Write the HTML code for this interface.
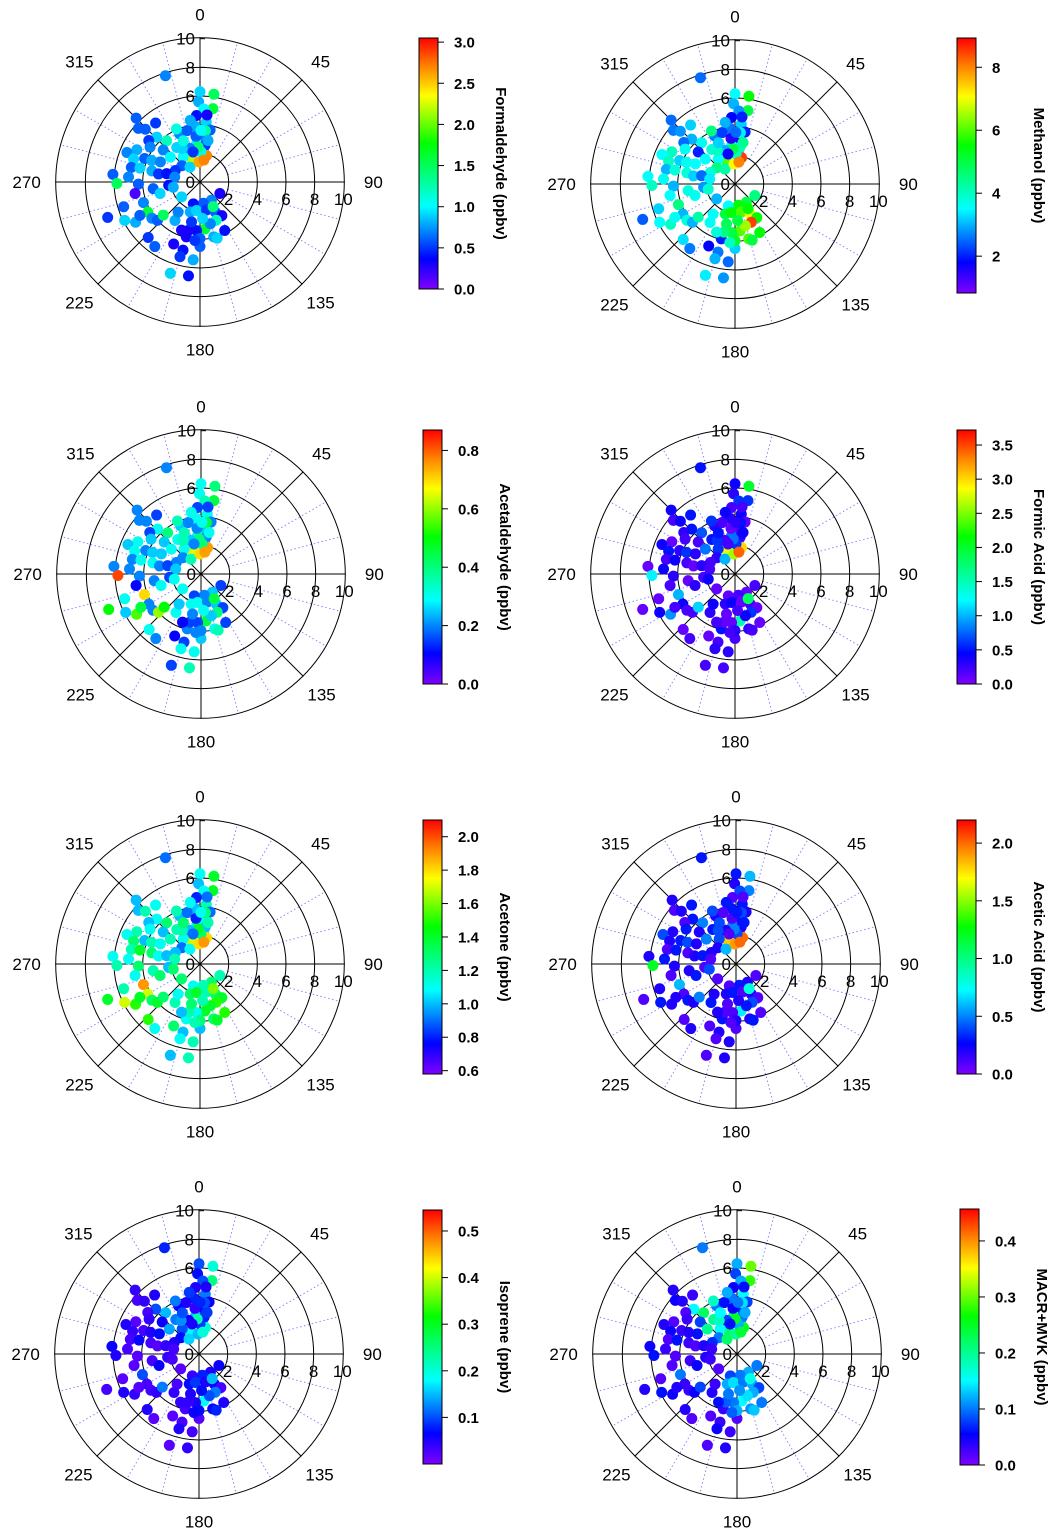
<!DOCTYPE html>
<html><head><meta charset="utf-8"><style>
body{margin:0;background:#fff}
svg{display:block;font-family:"Liberation Sans",Arial,sans-serif}
</style></head><body>
<svg id="chart" width="1055" height="1539" viewBox="0 0 1055 1539" xmlns="http://www.w3.org/2000/svg">
<defs>
<linearGradient id="rainbow" x1="0" y1="1" x2="0" y2="0">
<stop offset="0" stop-color="#7f00ff"/><stop offset="0.12" stop-color="#0000ff"/><stop offset="0.33" stop-color="#00ffff"/><stop offset="0.58" stop-color="#00ff00"/><stop offset="0.77" stop-color="#ffff00"/><stop offset="0.89" stop-color="#ff8000"/><stop offset="1" stop-color="#ff0000"/>
</linearGradient>
</defs>
</svg>
<script>
// wind direction (deg) and speed (m/s), shared by all panels
const windDir = [342,0,9,10,359,3,357,6,11,355,4,355,8,14,340,326,326,337,346,351,336,321,316,311,310,312,295,326,357,2,10,6,6,355,1,11,357,343,332,338,347,
315,323,311,314,309,305,297,292,293,289,282,283,294,297,283,281,284,281,275,274,269,268,260,262,254,264,259,252,249,243,238,250,240,241,233,228,228,223,215,203,213,216,231,194,195,185,198,187,194,180,
120,148,171,197,198,187,167,153,147,157,174,184,193,201,166,163,153,180,185,166,176,192,152];
const windSpeed = [7.8,6.3,6.2,5.2,5.6,5.1,4.65,4.2,3.7,3.9,3.15,2.7,2.6,1.9,1.7,2.1,2.9,3.65,3.7,4.35,4.05,3.7,4.35,3.4,2.7,1.7,1.9,1.25,1.4,2.1,1.55,4.7,3.6,3.2,3.6,2.95,2.45,2.45,2.65,3.1,2.15,
6.3,5.15,5.7,5.3,4.6,4.25,4.95,5.5,4.2,4.9,4.9,4.3,3.7,3.1,3.45,2.95,2.4,1.8,6.1,5.0,5.8,4.3,4.6,3.3,2.9,2.2,1.9,5.6,6.9,5.9,5.3,4.2,4.2,4.8,4.2,4.0,3.45,5.3,5.5,4.7,3.2,2.6,1.65,4.9,5.4,5.45,6.7,6.6,3.95,4.5,
1.6,1.5,1.5,1.6,2.2,2.0,2.0,2.35,2.8,2.9,3.3,3.4,3.45,3.6,3.95,4.1,3.8,3.95,4.1,3.0,2.55,2.85,1.95];
const formaldehyde = [0.7,0.9,1.5,1.6,0.8,1.0,0.4,0.9,0.6,0.8,0.7,1.0,0.5,2.7,2.2,1.0,0.9,0.7,0.6,0.8,1.1,1.2,0.9,0.7,1.0,0.6,0.5,0.9,2.6,1.1,2.7,0.3,1.3,0.6,1.0,0.8,1.4,0.7,0.9,1.1,0.5,
0.6,0.5,0.6,0.6,0.5,0.7,0.8,0.7,0.6,0.9,0.6,0.9,0.8,0.7,0.8,0.5,0.4,0.7,0.6,0.7,1.5,0.6,0.15,0.6,0.9,0.4,0.8,0.6,0.5,0.9,0.8,0.7,1.6,0.6,0.7,0.6,1.5,0.5,0.6,0.3,0.8,0.7,0.9,0.4,0.5,0.8,0.9,0.4,0.3,0.6,
0.3,0.7,0.6,0.4,0.8,0.9,0.5,0.6,0.3,1.2,1.6,0.4,0.3,0.3,0.8,0.9,0.4,0.6,0.5,0.7,0.9,0.5,1.4];
const methanol = [2.5,3.5,5.5,5.0,3.0,2.8,1.8,3.2,2.0,2.6,1.5,3.8,4.0,8.5,6.0,3.5,3.8,2.6,2.2,3.0,4.5,3.6,3.0,2.0,3.5,4.5,3.8,4.2,7.0,4.0,8.0,2.0,3.4,1.5,2.5,4.4,5.0,3.0,4.0,3.2,1.7,
2.5,3.2,2.6,2.8,2.5,3.6,4.0,3.5,3.2,4.0,3.0,3.8,3.6,3.5,3.8,3.2,2.5,3.4,3.5,3.6,4.0,3.0,3.5,3.8,3.6,2.8,3.9,3.2,2.4,3.5,4.0,4.5,3.0,3.6,3.8,3.0,4.2,3.3,2.6,1.8,3.6,3.5,3.0,2.6,3.0,2.5,3.4,2.8,2.0,3.2,
4.5,5.0,5.5,3.5,5.0,5.5,6.0,7.0,5.5,8.5,6.0,5.0,4.5,3.8,6.0,5.0,5.5,5.2,4.0,6.5,5.0,4.8,5.5];
const acetaldehyde = [0.2,0.3,0.4,0.45,0.3,0.35,0.15,0.3,0.2,0.3,0.25,0.35,0.2,0.75,0.65,0.3,0.3,0.25,0.2,0.3,0.35,0.4,0.3,0.25,0.3,0.2,0.2,0.35,0.7,0.4,0.75,0.15,0.45,0.2,0.3,0.3,0.4,0.25,0.35,0.35,0.2,
0.2,0.15,0.2,0.2,0.15,0.25,0.3,0.25,0.2,0.3,0.2,0.3,0.25,0.25,0.3,0.2,0.15,0.25,0.2,0.2,0.82,0.2,0.1,0.2,0.3,0.15,0.3,0.3,0.5,0.25,0.55,0.7,0.2,0.45,0.2,0.6,0.5,0.3,0.2,0.1,0.3,0.25,0.3,0.15,0.3,0.3,0.15,0.35,0.2,0.25,
0.15,0.25,0.2,0.15,0.3,0.3,0.2,0.25,0.15,0.4,0.45,0.15,0.15,0.1,0.3,0.35,0.15,0.2,0.2,0.25,0.3,0.2,0.45];
const formicAcid = [0.5,0.4,2.0,0.6,0.3,0.6,0.2,0.4,0.1,0.3,0.2,0.8,0.3,3.0,2.8,0.6,0.5,0.3,0.2,0.4,0.6,0.7,0.5,0.2,0.8,0.3,0.2,1.0,2.6,0.6,3.4,0.2,0.5,0.1,0.3,0.4,0.8,0.2,0.6,0.5,0.2,
0.4,0.5,0.2,0.4,0.3,0.2,0.1,0.4,0.3,0.5,0.2,0.4,0.6,0.3,0.2,0.1,0.3,0.2,0.1,0.4,1.2,0.3,0.2,0.1,0.3,0.2,0.4,0.1,0.1,0.4,0.9,1.0,0.4,0.2,0.2,0.2,1.1,0.1,0.2,0.1,0.3,0.4,0.1,0.2,0.3,0.3,0.2,0.2,0.5,0.2,
0.2,0.1,0.2,0.1,0.3,0.4,0.1,0.2,0.1,0.6,1.5,0.1,0.1,0.2,0.3,0.2,0.1,0.3,0.2,0.4,0.2,0.1,1.8];
const acetone = [0.9,1.1,1.4,1.4,1.0,1.1,0.8,1.2,0.9,1.0,1.1,1.2,1.0,1.8,1.7,1.1,1.2,1.0,0.9,1.1,1.2,1.3,1.1,1.0,1.2,0.9,1.0,1.1,1.8,1.3,1.9,0.9,1.3,0.8,1.1,1.2,1.4,1.0,1.2,1.3,0.9,
1.0,1.1,1.0,1.2,1.0,1.1,1.2,1.1,1.0,1.3,1.2,1.4,1.2,1.1,1.3,1.1,1.0,1.2,1.1,1.1,1.2,1.3,1.1,1.2,1.3,1.0,1.3,1.2,1.4,1.7,1.5,1.9,1.7,1.4,1.3,1.4,1.3,1.5,1.1,1.3,1.2,1.1,1.3,1.0,1.1,1.2,1.0,1.2,1.1,1.0,
1.2,1.3,1.2,1.1,1.3,1.4,1.2,1.3,1.4,1.5,1.4,1.1,1.2,1.0,1.3,1.4,1.5,1.3,1.2,1.4,1.2,1.3,1.6];
const aceticAcid = [0.3,0.3,0.6,0.5,0.2,0.4,0.1,0.3,0.2,0.3,0.2,0.5,0.2,2.0,1.8,0.4,0.3,0.2,0.1,0.3,0.4,0.5,0.3,0.2,0.5,0.2,0.2,0.6,1.9,0.4,2.0,0.1,0.4,0.1,0.3,0.3,0.5,0.2,0.4,0.4,0.1,
0.2,0.3,0.1,0.2,0.1,0.3,0.2,0.4,0.3,0.2,0.1,0.3,0.4,0.2,0.1,0.2,0.3,0.1,0.2,0.3,1.2,0.2,0.1,0.2,0.3,0.1,0.4,0.2,0.1,0.3,0.2,0.6,0.1,0.2,0.3,0.2,0.5,0.1,0.2,0.1,0.3,0.2,0.1,0.2,0.1,0.2,0.1,0.2,0.3,0.1,
0.1,0.2,0.3,0.1,0.2,0.3,0.1,0.2,0.1,0.4,0.7,0.1,0.1,0.2,0.2,0.3,0.1,0.2,0.1,0.3,0.2,0.1,0.8];
const isoprene = [0.08,0.1,0.2,0.25,0.07,0.1,0.05,0.12,0.06,0.08,0.05,0.15,0.08,0.2,0.18,0.1,0.12,0.06,0.05,0.09,0.12,0.15,0.1,0.06,0.14,0.07,0.05,0.16,0.15,0.09,0.2,0.05,0.1,0.04,0.08,0.09,0.22,0.06,0.13,0.1,0.05,
0.04,0.05,0.03,0.04,0.03,0.04,0.02,0.05,0.03,0.04,0.03,0.06,0.05,0.07,0.03,0.02,0.04,0.03,0.06,0.03,0.05,0.02,0.02,0.03,0.06,0.04,0.03,0.02,0.03,0.05,0.04,0.1,0.03,0.02,0.03,0.04,0.12,0.05,0.02,0.02,0.04,0.03,0.02,0.03,0.05,0.03,0.02,0.04,0.03,0.02,
0.06,0.05,0.08,0.04,0.07,0.09,0.05,0.06,0.03,0.12,0.18,0.05,0.04,0.04,0.06,0.08,0.05,0.07,0.06,0.1,0.07,0.05,0.15];
const macrMvk = [0.1,0.12,0.3,0.28,0.08,0.12,0.05,0.15,0.08,0.1,0.07,0.2,0.1,0.25,0.22,0.15,0.2,0.1,0.06,0.12,0.18,0.22,0.15,0.08,0.2,0.1,0.07,0.22,0.2,0.12,0.24,0.06,0.14,0.05,0.1,0.12,0.25,0.08,0.18,0.15,0.06,
0.04,0.03,0.05,0.04,0.02,0.03,0.02,0.04,0.03,0.05,0.02,0.06,0.04,0.06,0.03,0.02,0.04,0.03,0.05,0.03,0.06,0.02,0.02,0.03,0.05,0.04,0.03,0.02,0.04,0.06,0.05,0.1,0.03,0.04,0.03,0.05,0.08,0.04,0.02,0.02,0.04,0.03,0.02,0.03,0.05,0.03,0.02,0.04,0.03,0.02,
0.1,0.12,0.1,0.08,0.12,0.14,0.1,0.12,0.08,0.12,0.15,0.1,0.09,0.06,0.11,0.13,0.1,0.12,0.09,0.14,0.11,0.1,0.16];
const angleLabels = ["0","45","90","135","180","225","270","315"];
const radialTicks = [2,4,6,8,10];
const panelTitles = ["Formaldehyde (ppbv)","Methanol (ppbv)","Acetaldehyde (ppbv)","Formic Acid (ppbv)","Acetone (ppbv)","Acetic Acid (ppbv)","Isoprene (ppbv)","MACR+MVK (ppbv)"];
const colorMins = [0,0.83,0,0,0.58,0,0,0];
const colorMaxs = [3.05,8.93,0.87,3.72,2.1,2.2,0.545,0.457];
const cbTicks = [[0,0.5,1,1.5,2,2.5,3],[2,4,6,8],[0,0.2,0.4,0.6,0.8],[0,0.5,1,1.5,2,2.5,3,3.5],[0.6,0.8,1,1.2,1.4,1.6,1.8,2],[0,0.5,1,1.5,2],[0.1,0.2,0.3,0.4,0.5],[0,0.1,0.2,0.3,0.4]];
const cbDecimals = [1,0,1,1,1,1,1,1];
const seriesList = [formaldehyde,methanol,acetaldehyde,formicAcid,acetone,aceticAcid,isoprene,macrMvk];

const NS="http://www.w3.org/2000/svg";
const svg=document.getElementById('chart');
function mk(tag,attrs,parent){const e=document.createElementNS(NS,tag);for(const k in attrs)e.setAttribute(k,attrs[k]);(parent||svg).appendChild(e);return e;}
const stops=[[0,[127,0,255]],[0.12,[0,0,255]],[0.33,[0,255,255]],[0.58,[0,255,0]],[0.77,[255,255,0]],[0.89,[255,128,0]],[1,[255,0,0]]];
function cmap(t){t=Math.max(0,Math.min(1,t));for(let i=1;i<stops.length;i++){if(t<=stops[i][0]){const a=stops[i-1],b=stops[i];const f=(t-a[0])/(b[0]-a[0]);const c=a[1].map((v,j)=>Math.round(v+(b[1][j]-v)*f));return `rgb(${c[0]},${c[1]},${c[2]})`;}}return 'rgb(255,0,0)';}

const centers=[[200,182],[735,184],[201,574],[735,574],[200,964],[736,964],[199,1354],[737,1354]];
const cbBoxes=[[419,38,289],[957,38,293],[423,430,684],[957,430,684],[423,820,1074],[957,820,1074],[423,1210,1464],[960,1209,1465]];
const RS=14.33;
function rScale(v){return v*RS;}
function polarX(cx,dir,sp){return cx+rScale(sp)*Math.sin(dir*Math.PI/180);}
function polarY(cy,dir,sp){return cy-rScale(sp)*Math.cos(dir*Math.PI/180);}

seriesList.forEach((vals,p)=>{
  const [cx,cy]=centers[p];
  const g=mk('g',{});
  
  
  for(let a=0;a<360;a+=15){
    if(a%45===0)continue;
    const l=mk('line',{x1:polarX(cx,a,2),y1:polarY(cy,a,2),x2:polarX(cx,a,10),y2:polarY(cy,a,10),stroke:'#8a8aff','stroke-width':1,'stroke-dasharray':'1.5,2.5'},g);
    
    
  }
  radialTicks.forEach(r=>{
    const c=mk('circle',{cx:cx,cy:cy,r:rScale(r)+(r===10?1:0),fill:'none',stroke:'#000','stroke-width':1},g);
    
    
  });
  for(let a=0;a<180;a+=45){
    const l=mk('line',{x1:polarX(cx,a,10.1),y1:polarY(cy,a,10.1),x2:polarX(cx,a+180,10.1),y2:polarY(cy,a+180,10.1),stroke:'#000','stroke-width':1},g);
    
    
  }
  angleLabels.forEach((lab,i)=>{
    const a=i*45;const rr=(a%180===0)?11.7:(a%90===0?12.1:11.9);
    const t=mk('text',{x:polarX(cx,a,rr),y:polarY(cy,a,rr)+6,'text-anchor':'middle','font-size':17},g);
    t.textContent=lab;
    
    
  });
  [0].concat(radialTicks).forEach(r=>{
    const t=mk('text',{x:cx-5,y:cy-rScale(r)+6,'text-anchor':'end','font-size':17},g);
    t.textContent=r;
    
    
    mk('line',{x1:cx,y1:cy-rScale(r),x2:cx+5,y2:cy-rScale(r),stroke:'#000'},g);
  });
  radialTicks.forEach(r=>{
    const t=mk('text',{x:cx+rScale(r),y:cy+23,'text-anchor':'middle','font-size':17},g);
    t.textContent=r;
    
    
  });
  const mn=colorMins[p],mx=colorMaxs[p];
  vals.forEach((v,i)=>{
    const c=mk('circle',{cx:polarX(cx,windDir[i],windSpeed[i]),cy:polarY(cy,windDir[i],windSpeed[i]),r:5.5,fill:cmap((v-mn)/(mx-mn))},g);
    
    
  });
  const [bx,by0,by1]=cbBoxes[p];
  const bw=19;
  const cb=mk('g',{},g);
  
  
  mk('rect',{x:bx,y:by0,width:bw,height:by1-by0,fill:'url(#rainbow)',stroke:'#000','stroke-width':1},cb);
  cbTicks[p].forEach(tv=>{
    const y=by1-(tv-mn)/(mx-mn)*(by1-by0);
    mk('line',{x1:bx+bw,y1:y,x2:bx+bw+6,y2:y,stroke:'#000'},cb);
    const t=mk('text',{x:bx+bw+16,y:y+5.5,'font-size':15,'font-weight':'bold'},cb);
    t.textContent=tv.toFixed(cbDecimals[p]);
    
    
  });
  const tx=bx+77;
  const ty=(by0+by1)/2;
  const tt=mk('text',{x:tx,y:ty,'text-anchor':'middle','font-size':15,'font-weight':'bold',transform:`rotate(90 ${tx} ${ty})`},cb);
  tt.textContent=panelTitles[p];
  
  
});
</script>
</body></html>
